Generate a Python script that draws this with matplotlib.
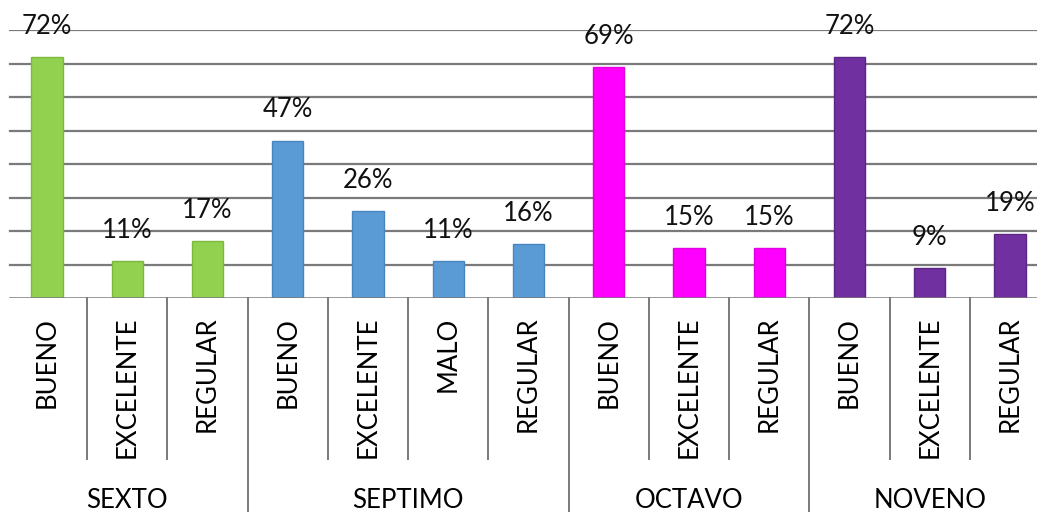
import numpy as np
import matplotlib.pyplot as plt
from matplotlib.transforms import blended_transform_factory

plt.rcParams['font.family'] = ['Lato', 'DejaVu Sans']

# data
groups = ['SEXTO', 'SEPTIMO', 'OCTAVO', 'NOVENO']
categories = [
    ['BUENO', 'EXCELENTE', 'REGULAR'],
    ['BUENO', 'EXCELENTE', 'MALO', 'REGULAR'],
    ['BUENO', 'EXCELENTE', 'REGULAR'],
    ['BUENO', 'EXCELENTE', 'REGULAR'],
]
values = [
    [72, 11, 17],
    [47, 26, 11, 16],
    [69, 15, 15],
    [72, 9, 19],
]
group_colors = ['#92D050', '#5B9BD5', '#FF00FF', '#7030A0']
edge_colors = ['#7DB83E', '#4A86BE', '#E000E0', '#5A2585']

fig = plt.figure(figsize=(10.37, 5.12), dpi=100)
# slot width ~80px, plot cropped at the right edge like the original
ax = fig.add_axes([7 / 1037, 214 / 512, 1043 / 1037, 268 / 512])

n_total = sum(len(c) for c in categories)
ax.set_xlim(-0.5, n_total - 0.5)
ax.set_ylim(0, 80)

grid_col = '#7A7A7A'
for yv in np.arange(10, 81, 10):
    ax.axhline(yv, color=grid_col, lw=1.6, zorder=0, xmin=3 / 1043)
ax.axhline(0, color=grid_col, lw=1.8, zorder=3, xmin=3 / 1043)

trans = blended_transform_factory(ax.transData, ax.transAxes)

fs = 18.5
pos = 0
for g, (gname, cats, vals) in enumerate(zip(groups, categories, values)):
    xs = np.arange(pos, pos + len(cats))
    ax.bar(xs, vals, width=0.39, color=group_colors[g],
           edgecolor=edge_colors[g], linewidth=1, zorder=2)
    for x, v, c in zip(xs, vals, cats):
        ax.annotate(f'{v}%', (x, v), xytext=(0, 13), textcoords='offset points',
                    ha='center', va='bottom', fontsize=fs, color='#111111')
        ax.text(x, -0.07, c, transform=trans, rotation=90, ha='center',
                va='top', fontsize=fs, color='#000000')
    # separators inside the group
    for x in xs[1:]:
        ax.plot([x - 0.5, x - 0.5], [0, -0.6], transform=trans, color=grid_col,
                lw=1.4, clip_on=False)
    # group separator
    if g > 0:
        ax.plot([pos - 0.5, pos - 0.5], [0, -0.81], transform=trans,
                color=grid_col, lw=1.4, clip_on=False)
    ax.text(xs.mean(), -0.755, gname, transform=trans, ha='center',
            va='center', fontsize=fs, color='#000000')
    pos += len(cats)

for s in ax.spines.values():
    s.set_visible(False)
ax.set_xticks([])
ax.set_yticks([])

fig.savefig('out.png', dpi=100)
